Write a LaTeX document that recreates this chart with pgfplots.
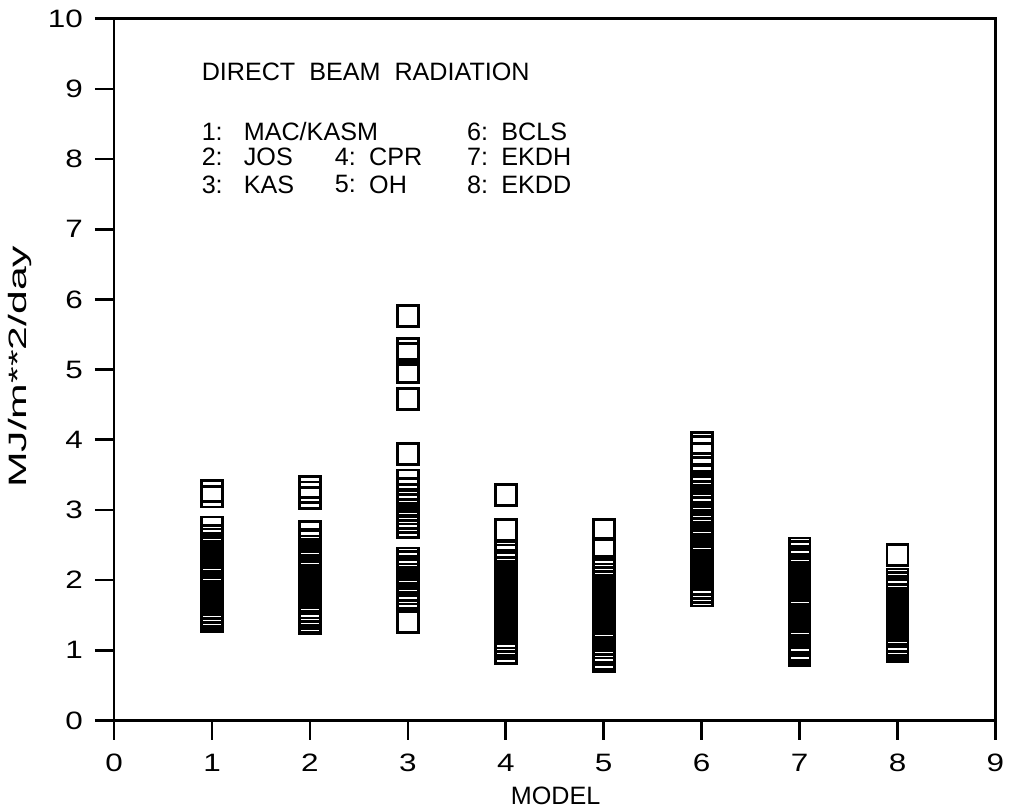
\documentclass[border=0pt]{standalone}
\usepackage{pgfplots}
\pgfplotsset{compat=1.18}
\usepackage{fontspec}
\setmainfont{Liberation Sans}
\newfontfamily\tickfont{Liberation Sans}[FakeStretch=1.25]
\begin{document}
\begin{tikzpicture}
\path (-43.1pt,-32.6pt) rectangle (336.75pt,272.2pt);
\begin{axis}[
  scale only axis, width=333pt, height=265.1pt,
  xmin=0, xmax=9, ymin=0, ymax=10,
  xtick={0,...,9}, ytick={0,...,10},
  tick align=outside, xtick pos=bottom, ytick pos=left,
  major tick length=7.3pt,
  axis line style={line width=1pt},
  every tick/.style={black, line width=1pt},
  tick label style={font=\tickfont\fontsize{9.5}{10}\selectfont},
  xticklabel style={yshift=-2pt},
  yticklabel style={xshift=-1pt},
  /pgf/number format/assume math mode=true,
  clip=false,
  mystyle/.style={only marks, mark=square, mark size=3.95pt, black, mark options={line width=1.05pt}},
]
\addplot[mystyle] coordinates {
(1,3.27)(1,3.19)(1,2.75)(1,2.63)(1,2.58)(1,2.51)(1,2.47)(1,2.40)(1,2.36)(1,2.28)(1,2.25)(1,2.19)(1,2.13)(1,2.10)(1,2.03)(1,1.98)(1,1.92)(1,1.89)(1,1.82)(1,1.77)(1,1.70)(1,1.66)(1,1.60)(1,1.55)(1,1.49)(1,1.45)(1,1.42)};
\addplot[mystyle] coordinates {
(2,3.33)(2,3.25)(2,3.17)(2,2.69)(2,2.58)(2,2.55)(2,2.48)(2,2.43)(2,2.36)(2,2.33)(2,2.26)(2,2.21)(2,2.15)(2,2.11)(2,2.04)(2,2.00)(2,1.93)(2,1.89)(2,1.83)(2,1.78)(2,1.71)(2,1.67)(2,1.61)(2,1.56)(2,1.50)(2,1.46)(2,1.41)(2,1.38)};
\addplot[mystyle] coordinates {
(3,5.76)(3,5.30)(3,5.22)(3,4.97)(3,4.58)(3,3.80)(3,3.42)(3,3.30)(3,3.21)(3,3.14)(3,3.07)(3,3.00)(3,2.95)(3,2.88)(3,2.83)(3,2.76)(3,2.31)(3,2.26)(3,2.19)(3,2.15)(3,2.08)(3,2.03)(3,1.97)(3,1.93)(3,1.86)(3,1.81)(3,1.75)(3,1.40)};
\addplot[mystyle] coordinates {
(4,3.21)(4,2.72)(4,2.40)(4,2.35)(4,2.28)(4,2.24)(4,2.17)(4,2.12)(4,2.06)(4,2.02)(4,1.95)(4,1.90)(4,1.84)(4,1.79)(4,1.73)(4,1.69)(4,1.62)(4,1.57)(4,1.51)(4,1.47)(4,1.40)(4,1.35)(4,1.29)(4,1.25)(4,1.18)(4,1.13)(4,1.07)(4,1.03)(4,0.96)};
\addplot[mystyle] coordinates {
(5,2.72)(5,2.45)(5,2.19)(5,2.14)(5,2.08)(5,2.03)(5,1.97)(5,1.92)(5,1.86)(5,1.82)(5,1.75)(5,1.70)(5,1.64)(5,1.60)(5,1.53)(5,1.48)(5,1.42)(5,1.38)(5,1.31)(5,1.26)(5,1.20)(5,1.16)(5,1.09)(5,1.04)(5,0.98)(5,0.94)(5,0.88)(5,0.85)};
\addplot[mystyle] coordinates {
(6,3.96)(6,3.90)(6,3.80)(6,3.65)(6,3.48)(6,3.40)(6,3.33)(6,3.26)(6,3.20)(6,3.14)(6,3.08)(6,3.03)(6,2.96)(6,2.91)(6,2.85)(6,2.80)(6,2.73)(6,2.68)(6,2.62)(6,2.57)(6,2.50)(6,2.46)(6,2.39)(6,2.34)(6,2.28)(6,2.23)(6,2.17)(6,2.12)(6,2.05)(6,2.01)(6,1.94)(6,1.89)(6,1.83)(6,1.78)};
\addplot[mystyle] coordinates {
(7,2.45)(7,2.40)(7,2.33)(7,2.29)(7,2.22)(7,2.17)(7,2.11)(7,2.07)(7,2.00)(7,1.95)(7,1.89)(7,1.85)(7,1.78)(7,1.73)(7,1.67)(7,1.63)(7,1.56)(7,1.51)(7,1.45)(7,1.41)(7,1.34)(7,1.29)(7,1.23)(7,1.19)(7,1.12)(7,1.07)(7,1.01)(7,0.97)(7,0.93)};
\addplot[mystyle] coordinates {
(8,2.36)(8,2.01)(8,1.96)(8,1.90)(8,1.86)(8,1.79)(8,1.74)(8,1.68)(8,1.64)(8,1.57)(8,1.52)(8,1.46)(8,1.42)(8,1.35)(8,1.30)(8,1.24)(8,1.20)(8,1.13)(8,1.08)(8,1.03)(8,0.99)};
\begin{scope}[every node/.style={font=\fontsize{9.5}{10}\selectfont, inner sep=0pt}]
\node[anchor=west] at (axis cs:0.89,9.24) {DIRECT\ \ BEAM\ \ RADIATION};
\node[anchor=west] at (axis cs:0.89,8.39) {1:};
\node[anchor=west] at (axis cs:1.32,8.39) {MAC/KASM};
\node[anchor=west] at (axis cs:0.89,8.03) {2:};
\node[anchor=west] at (axis cs:1.32,8.03) {JOS};
\node[anchor=west] at (axis cs:0.89,7.64) {3:};
\node[anchor=west] at (axis cs:1.32,7.64) {KAS};
\node[anchor=west] at (axis cs:2.25,8.03) {4:};
\node[anchor=west] at (axis cs:2.60,8.03) {CPR};
\node[anchor=west] at (axis cs:2.25,7.64) {5:};
\node[anchor=west] at (axis cs:2.60,7.64) {OH};
\node[anchor=west] at (axis cs:3.60,8.39) {6:};
\node[anchor=west] at (axis cs:3.95,8.39) {BCLS};
\node[anchor=west] at (axis cs:3.60,8.03) {7:};
\node[anchor=west] at (axis cs:3.95,8.03) {EKDH};
\node[anchor=west] at (axis cs:3.60,7.64) {8:};
\node[anchor=west] at (axis cs:3.95,7.64) {EKDD};
\node at ([yshift=-28.5pt]rel axis cs:0.501,0) {MODEL};
\node[rotate=90] at ([xshift=-35.5pt]rel axis cs:0,0.504) {\scalebox{1.7}[1]{MJ/m**2/day}};
\end{scope}
\end{axis}
\end{tikzpicture}
\end{document}
